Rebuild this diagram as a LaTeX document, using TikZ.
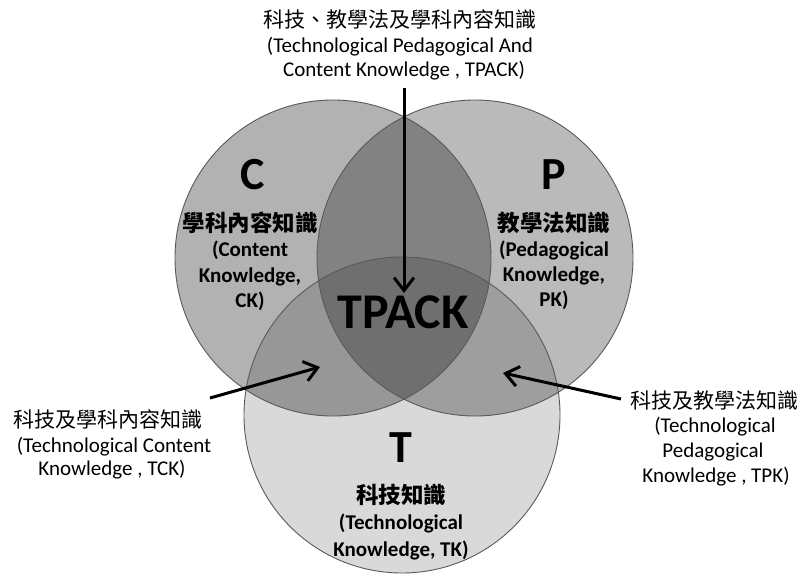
\documentclass[tikz,border=0pt]{standalone}
\usepackage{fontspec}
\setmainfont{Carlito}
\newfontfamily\cjk{Noto Sans CJK TC}
\usetikzlibrary{arrows.meta}

\begin{document}
\begin{tikzpicture}[x=1pt,y=-1pt,
  shade/.style={fill=black, draw=none},
  ring/.style={draw=black!65, line width=0.9pt},
  lbl/.style={anchor=base, inner sep=0pt, font=\fontsize{21}{21}\selectfont},
  zh/.style={anchor=base, inner sep=0pt, font=\cjk\fontsize{21}{21}\selectfont},
  blbl/.style={anchor=base, inner sep=0pt, font=\bfseries\fontsize{21}{21}\selectfont},
  bzh/.style={anchor=base, inner sep=0pt, font=\cjk\bfseries\fontsize{22.5}{22.5}\selectfont},
  big/.style={anchor=base, inner sep=0pt, font=\bfseries\fontsize{46}{46}\selectfont},
  pointer/.style={line width=3pt, -{Straight Barb[length=13pt,width=20pt]}}
]
\useasboundingbox (0,0) rectangle (802,577);

% circle centres
\coordinate (cC) at (333,258);
\coordinate (cP) at (475,258);
\coordinate (cT) at (402,415);

% translucent fills: overlaps darken
\fill[shade, fill opacity=0.30] (cC) circle [radius=158pt];
\fill[shade, fill opacity=0.27] (cP) circle [radius=158pt];
\fill[shade, fill opacity=0.15] (cT) circle [radius=158pt];

% outlines
\draw[ring] (cC) circle [radius=158pt];
\draw[ring] (cP) circle [radius=158pt];
\draw[ring] (cT) circle [radius=158pt];

% centre label
\node[anchor=base, inner sep=0pt, font=\bfseries\fontsize{50}{50}\selectfont] (tpack) at (403,328) {TPACK};

% C circle
\node[big] (bigC) at (253,190) {C};
\node[bzh] (ckzh) at (250,231) {學科內容知識};
\node[blbl] (ck1) at (250,256) {(Content};
\node[blbl] (ck2) at (250,282) {Knowledge,};
\node[blbl] (ck3) at (250,307) {CK)};

% P circle
\node[big] (bigP) at (554,190) {P};
\node[bzh] (pkzh) at (554,231) {教學法知識};
\node[blbl] (pk1) at (554,256) {(Pedagogical};
\node[blbl] (pk2) at (554,281) {Knowledge,};
\node[blbl] (pk3) at (554,306) {PK)};

% T circle
\node[big] (bigT) at (401,462) {T};
\node[bzh] (tkzh) at (401,503) {科技知識};
\node[blbl] (tk1) at (401,529) {(Technological};
\node[blbl] (tk2) at (401,556) {Knowledge, TK)};

% outer labels
\node[zh] (tpzh) at (400,28) {科技、教學法及學科內容知識};
\node[lbl] (tp1) at (400,53) {(Technological Pedagogical And};
\node[lbl] (tp2) at (404,77) {Content Knowledge , TPACK)};

\node[zh] (tckzh) at (108,427) {科技及學科內容知識};
\node[lbl] (tck1) at (114,452) {(Technological Content};
\node[lbl] (tck2) at (112,475) {Knowledge , TCK)};

\node[zh] (tpkzh) at (714,408) {科技及教學法知識};
\node[lbl] (tpk1) at (715,432) {(Technological};
\node[lbl] (tpk2) at (713,457) {Pedagogical};
\node[lbl] (tpk3) at (716,482) {Knowledge , TPK)};

% pointers
\coordinate (tpTail) at (404,88);
\coordinate (tpTip) at (404,293);
\coordinate (tckTail) at (210,398);
\coordinate (tckTip) at (320,367);
\coordinate (tpkTail) at (621,399);
\coordinate (tpkTip) at (503,373);
\draw[pointer] (tpTail) -- (tpTip);
\draw[pointer] (tckTail) -- (tckTip);
\draw[pointer] (tpkTail) -- (tpkTip);
\end{tikzpicture}
\end{document}
